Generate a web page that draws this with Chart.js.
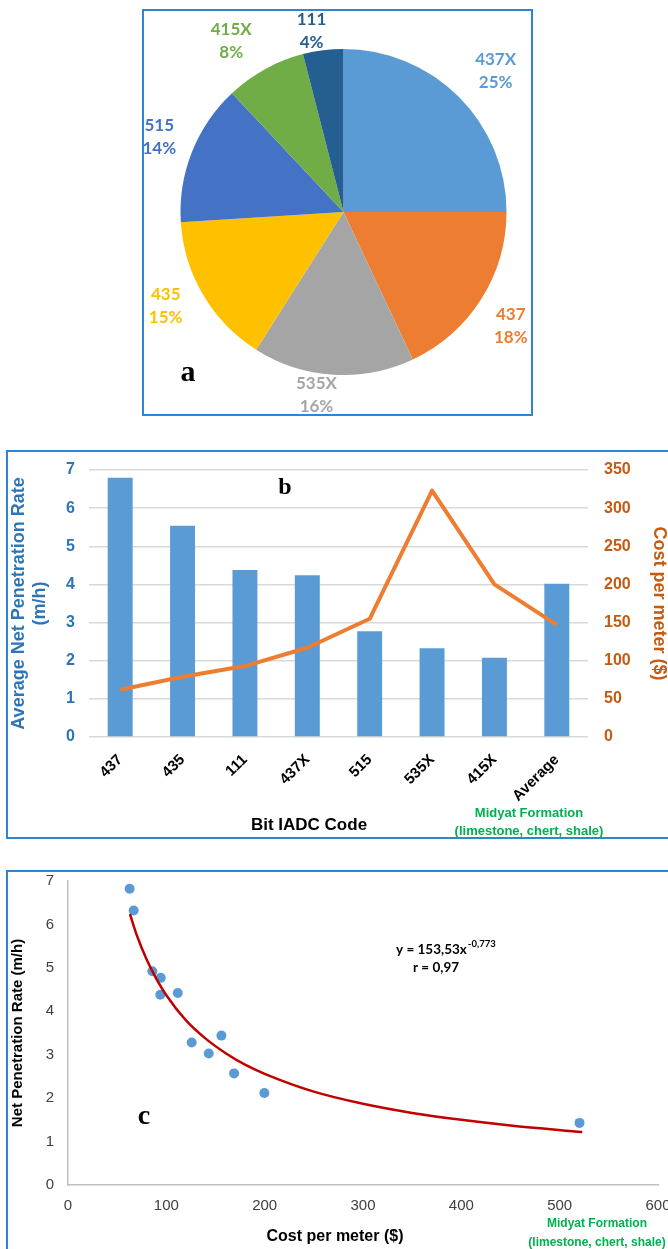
<!DOCTYPE html>
<html>
<head>
<meta charset="utf-8">
<script src="https://cdn.jsdelivr.net/npm/chart.js@4.4.1/dist/chart.umd.min.js"></script>
<style>
  html, body { margin: 0; padding: 0; background: #fff; width: 668px; height: 1249px; overflow: hidden; }
  .panel { position: absolute; box-sizing: border-box; border: 2px solid #2F85D3; background: #fff; }
  .panel canvas { display: block; }
  #panelA { left: 142px; top: 9px; width: 391px; height: 407px; }
  #panelB { left: 6px; top: 450px; width: 700px; height: 389px; }
  #panelC { left: 6px; top: 870px; width: 700px; height: 420px; }
</style>
</head>
<body>
<div class="panel" id="panelA"><canvas id="pieChart" width="387" height="403"></canvas></div>
<div class="panel" id="panelB"><canvas id="barChart" width="660" height="385"></canvas></div>
<div class="panel" id="panelC"><canvas id="scatterChart" width="660" height="377"></canvas></div>
<script>
// (a) share of bits used
const pieLabels = ["437X", "437", "535X", "435", "515", "415X", "111"];
const pieShares = [25, 18, 16, 15, 14, 8, 4];
const pieColors = ["#5B9BD5", "#ED7D31", "#A5A5A5", "#FFC000", "#4472C4", "#70AD47", "#255E91"];

// (b) average rate and cost per bit type
const bitCodes = ["437", "435", "111", "437X", "515", "535X", "415X", "Average"];
const avgRate = [6.8, 5.54, 4.38, 4.24, 2.77, 2.33, 2.08, 4.02];
const avgCost = [62, 79, 93, 117, 155, 323, 200, 147];

// (c) rate vs cost per run, plus the power trend line
const pointCost = [62.7, 66.8, 85.8, 94.3, 93.9, 111.6, 125.8, 156, 143.1, 168.9, 199.7, 520.2];
const pointRate = [6.82, 6.32, 4.92, 4.77, 4.38, 4.42, 3.28, 3.44, 3.03, 2.57, 2.12, 1.43];
const trendCost = [63, 70, 80, 90, 100, 120, 140, 160, 180, 200, 250, 300, 350, 400, 450, 523];
const trendRate = [6.24, 5.75, 5.19, 4.74, 4.37, 3.79, 3.37, 3.04, 2.77, 2.56, 2.15, 1.87, 1.66, 1.50, 1.37, 1.22];

Chart.defaults.font.family = "'Liberation Sans', Arial, sans-serif";
Chart.defaults.animation = false;
Chart.defaults.plugins.legend.display = false;
Chart.defaults.plugins.tooltip.enabled = false;

function drawText(ctx, str, x, y, font, color, align) {
    ctx.save();
    ctx.font = font;
    ctx.fillStyle = color;
    ctx.textAlign = align || "center";
    ctx.textBaseline = "middle";
    ctx.fillText(str, x, y);
    ctx.restore();
}

// keep tick-label overhang from shrinking the plot area
function noScalePadding(scale) {
    scale.paddingTop = 0;
    scale.paddingBottom = 0;
    scale.paddingLeft = 0;
    scale.paddingRight = 0;
}

// where each pie label sits outside the rim (px past the edge, degrees of turn)
const pieLabelGap = [45, 39, 22, 38, 36, 42, 21];
const pieLabelTurn = [2, 1.7, 4.8, 2.8, 0.6, -4.4, -2.8];

const pieLabelPlugin = {
    id: "pieLabels",
    afterDatasetsDraw: function (chart) {
        const ctx = chart.ctx;
        const arcs = chart.getDatasetMeta(0).data;
        arcs.forEach(function (arc, i) {
            const p = arc.getProps(["x", "y", "startAngle", "endAngle", "outerRadius"], true);
            const mid = (p.startAngle + p.endAngle) / 2 + pieLabelTurn[i] * Math.PI / 180;
            const dist = p.outerRadius + pieLabelGap[i];
            const lx = p.x + Math.cos(mid) * dist;
            const ly = p.y + Math.sin(mid) * dist;
            drawText(ctx, pieLabels[i], lx, ly - 11, "bold 17px Lato", pieColors[i]);
            drawText(ctx, pieShares[i] + "%", lx, ly + 12, "bold 17px Lato", pieColors[i]);
        });
        drawText(ctx, "a", 44, 362, "bold 30px 'Liberation Serif'", "#000");
    }
};

new Chart(document.getElementById("pieChart"), {
    type: "pie",
    data: {
        labels: pieLabels,
        datasets: [{
            data: pieShares,
            backgroundColor: pieColors,
            borderWidth: 0
        }]
    },
    options: {
        responsive: false,
        layout: { padding: { left: 36, right: 24, top: 38, bottom: 39 } }
    },
    plugins: [pieLabelPlugin]
});

const barNotesPlugin = {
    id: "barNotes",
    afterDraw: function (chart) {
        const ctx = chart.ctx;
        drawText(ctx, "b", 277, 36, "bold 24px 'Liberation Serif'", "#000");
        drawText(ctx, "Bit IADC Code", 301, 373, "bold 17px 'Liberation Sans'", "#000");
        drawText(ctx, "Midyat Formation", 521, 361, "bold 13px 'Liberation Sans'", "#00B050");
        drawText(ctx, "(limestone, chert, shale)", 521, 379, "bold 13px 'Liberation Sans'", "#00B050");
    }
};

new Chart(document.getElementById("barChart"), {
    type: "bar",
    data: {
        labels: bitCodes,
        datasets: [
            {
                type: "line",
                data: avgCost,
                yAxisID: "y1",
                borderColor: "#ED7D31",
                borderWidth: 4,
                borderJoinStyle: "round",
                pointRadius: 0,
                tension: 0,
                order: 0
            },
            {
                type: "bar",
                data: avgRate,
                yAxisID: "y",
                backgroundColor: "#5B9BD5",
                categoryPercentage: 1,
                barPercentage: 0.4,
                order: 1
            }
        ]
    },
    options: {
        responsive: false,
        layout: { padding: { top: 18 } },
        scales: {
            x: {
                grid: { display: false },
                border: { display: false },
                ticks: {
                    color: "#000",
                    font: { size: 15, weight: "bold" },
                    maxRotation: 45,
                    minRotation: 45,
                    padding: 6
                },
                afterFit: function (scale) {
                    noScalePadding(scale);
                    scale.height = 100;
                }
            },
            y: {
                position: "left",
                min: 0,
                max: 7,
                ticks: {
                    stepSize: 1,
                    color: "#2E75B6",
                    font: { size: 16, weight: "bold" },
                    padding: 14
                },
                grid: { color: "#D9D9D9", lineWidth: 1.5, drawTicks: false },
                border: { display: false },
                title: {
                    display: true,
                    text: ["Average Net Penetration Rate", "(m/h)"],
                    color: "#2E75B6",
                    font: { size: 18, weight: "bold" },
                    padding: { top: 0, bottom: 0 }
                },
                afterFit: function (scale) {
                    noScalePadding(scale);
                    scale.width = 81;
                }
            },
            y1: {
                position: "right",
                min: 0,
                max: 350,
                ticks: {
                    stepSize: 50,
                    color: "#C55A11",
                    font: { size: 16, weight: "bold" },
                    padding: 16
                },
                grid: { display: false, drawTicks: false },
                border: { display: false },
                title: {
                    display: true,
                    text: "Cost per meter ($)",
                    color: "#C55A11",
                    font: { size: 18, weight: "bold", lineHeight: 1 },
                    padding: { top: 0, bottom: 0 }
                },
                afterFit: function (scale) {
                    noScalePadding(scale);
                    scale.width = 80;
                }
            }
        }
    },
    plugins: [barNotesPlugin]
});

const scatterNotesPlugin = {
    id: "scatterNotes",
    afterDraw: function (chart) {
        const ctx = chart.ctx;
        ctx.save();
        ctx.font = "bold 13.5px Lato";
        const mainText = "y = 153,53x";
        const w = ctx.measureText(mainText).width;
        ctx.restore();
        drawText(ctx, mainText, 388, 78, "bold 13.5px Lato", "#000", "left");
        drawText(ctx, "-0,773", 388 + w + 1, 72, "bold 9.5px Lato", "#000", "left");
        drawText(ctx, "r = 0,97", 428, 96, "bold 13.5px Lato", "#000");
        drawText(ctx, "c", 136, 245, "bold 28px 'Liberation Serif'", "#000");
        drawText(ctx, "Cost per meter ($)", 327, 365, "bold 16px 'Liberation Sans'", "#000");
        drawText(ctx, "Midyat Formation", 589, 352, "bold 12px 'Liberation Sans'", "#00B050");
        drawText(ctx, "(limestone, chert, shale)", 589, 371, "bold 12px 'Liberation Sans'", "#00B050");
    }
};

new Chart(document.getElementById("scatterChart"), {
    type: "scatter",
    data: {
        datasets: [
            {
                data: trendCost.map(function (c, i) { return { x: c, y: trendRate[i] }; }),
                showLine: true,
                borderColor: "#C00000",
                borderWidth: 2.5,
                pointRadius: 0,
                cubicInterpolationMode: "monotone",
                order: 0
            },
            {
                data: pointCost.map(function (c, i) { return { x: c, y: pointRate[i] }; }),
                backgroundColor: "#5B9BD5",
                borderWidth: 0,
                pointRadius: 5,
                order: 1
            }
        ]
    },
    options: {
        responsive: false,
        layout: { padding: { top: 9, right: 10 } },
        scales: {
            x: {
                type: "linear",
                min: 0,
                max: 600,
                ticks: {
                    stepSize: 100,
                    color: "#404040",
                    font: { size: 15 },
                    padding: 12
                },
                grid: { display: false, drawTicks: false },
                border: { color: "#BFBFBF", width: 1.5 },
                afterFit: function (scale) {
                    noScalePadding(scale);
                    scale.height = 64;
                }
            },
            y: {
                min: 0,
                max: 7,
                ticks: {
                    stepSize: 1,
                    color: "#404040",
                    font: { size: 15 },
                    padding: 14
                },
                grid: { display: false, drawTicks: false },
                border: { color: "#BFBFBF", width: 1.5 },
                title: {
                    display: true,
                    text: "Net Penetration Rate (m/h)",
                    color: "#000",
                    font: { size: 15, weight: "bold" },
                    padding: { top: 1, bottom: 0 }
                },
                afterFit: function (scale) {
                    noScalePadding(scale);
                    scale.width = 60;
                }
            }
        }
    },
    plugins: [scatterNotesPlugin]
});
</script>
</body>
</html>
